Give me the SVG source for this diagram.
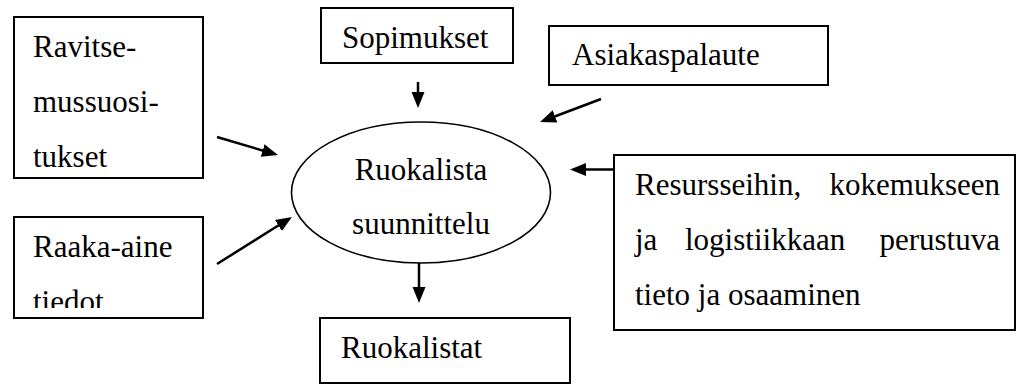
<svg xmlns="http://www.w3.org/2000/svg" width="1018" height="385" viewBox="0 0 1018 385">
  <style>
    .box { fill: #fff; stroke: #000; stroke-width: 2; }
    .ell { fill: #fff; stroke: #000; stroke-width: 1.6; }
    .conn line { stroke: #000; stroke-width: 2.5; }
  </style>
  <defs>
    <marker id="ah" markerUnits="userSpaceOnUse" markerWidth="17" markerHeight="15" refX="6" refY="7.5" orient="auto">
      <path d="M0,1 L16,7.5 L0,14 Z" fill="#000"/>
    </marker>
    <clipPath id="clipRaaka">
      <rect x="14" y="217" width="189" height="91"/>
    </clipPath>
  </defs>

  <g id="ravitsemussuositukset" font-family="Liberation Serif">
    <rect class="box" x="14" y="17" width="189" height="161"/>
    <text x="33" y="57" font-size="31" font-family="Liberation Serif" style="font-family:'Liberation Serif',serif !important">Ravitse-</text>
    <text x="33" y="112" font-size="31" font-family="Liberation Serif" style="font-family:'Liberation Serif',serif !important">mussuosi-</text>
    <text x="33" y="167" font-size="31" font-family="Liberation Serif" style="font-family:'Liberation Serif',serif !important">tukset</text>
  </g>

  <g id="raaka-aine" font-family="Liberation Serif">
    <rect class="box" x="14" y="217" width="189" height="101"/>
    <g clip-path="url(#clipRaaka)">
      <text x="33" y="257" font-size="31" font-family="Liberation Serif" style="font-family:'Liberation Serif',serif !important">Raaka-aine</text>
      <text x="33" y="312" font-size="31" font-family="Liberation Serif" style="font-family:'Liberation Serif',serif !important">tiedot</text>
    </g>
  </g>

  <g id="sopimukset" font-family="Liberation Serif">
    <rect class="box" x="321" y="8" width="192" height="55"/>
    <text x="342" y="48" font-size="31" font-family="Liberation Serif" style="font-family:'Liberation Serif',serif !important">Sopimukset</text>
  </g>

  <g id="asiakaspalaute" font-family="Liberation Serif">
    <rect class="box" x="549" y="26" width="279" height="59"/>
    <text x="572" y="65" font-size="31" font-family="Liberation Serif" style="font-family:'Liberation Serif',serif !important">Asiakaspalaute</text>
  </g>

  <g id="ruokalista-suunnittelu" font-family="Liberation Serif">
    <ellipse class="ell" cx="421" cy="192.5" rx="129.5" ry="70.5"/>
    <text x="421" y="180" font-size="31" font-family="Liberation Serif" text-anchor="middle" style="font-family:'Liberation Serif',serif !important">Ruokalista</text>
    <text x="421" y="234" font-size="31" font-family="Liberation Serif" text-anchor="middle" style="font-family:'Liberation Serif',serif !important">suunnittelu</text>
  </g>

  <g id="resurssit" font-family="Liberation Serif">
    <rect class="box" x="614" y="155" width="401" height="175"/>
    <text font-size="31" font-family="Liberation Serif" style="font-family:'Liberation Serif',serif !important"><tspan x="635" y="195">Resursseihin,</tspan><tspan x="1000" y="195" text-anchor="end">kokemukseen</tspan></text>
    <text font-size="31" font-family="Liberation Serif" style="font-family:'Liberation Serif',serif !important"><tspan x="635" y="250">ja</tspan><tspan x="685" y="250">logistiikkaan</tspan><tspan x="1000" y="250" text-anchor="end">perustuva</tspan></text>
    <text x="635" y="305" font-size="31" font-family="Liberation Serif" style="font-family:'Liberation Serif',serif !important">tieto ja osaaminen</text>
  </g>

  <g id="ruokalistat" font-family="Liberation Serif">
    <rect class="box" x="320" y="318" width="250" height="65"/>
    <text x="341" y="358" font-size="31" font-family="Liberation Serif" style="font-family:'Liberation Serif',serif !important">Ruokalistat</text>
  </g>

  <g id="connectors" class="conn">
    <line x1="418" y1="82" x2="418" y2="98" marker-end="url(#ah)"/>
    <line x1="601" y1="99" x2="549.4" y2="118.5" marker-end="url(#ah)"/>
    <line x1="217" y1="137" x2="268.4" y2="152.2" marker-end="url(#ah)"/>
    <line x1="217" y1="264" x2="283.5" y2="222.3" marker-end="url(#ah)"/>
    <line x1="614" y1="169.5" x2="580" y2="169.5" marker-end="url(#ah)"/>
    <line x1="419" y1="263" x2="419" y2="293" marker-end="url(#ah)"/>
  </g>
</svg>
